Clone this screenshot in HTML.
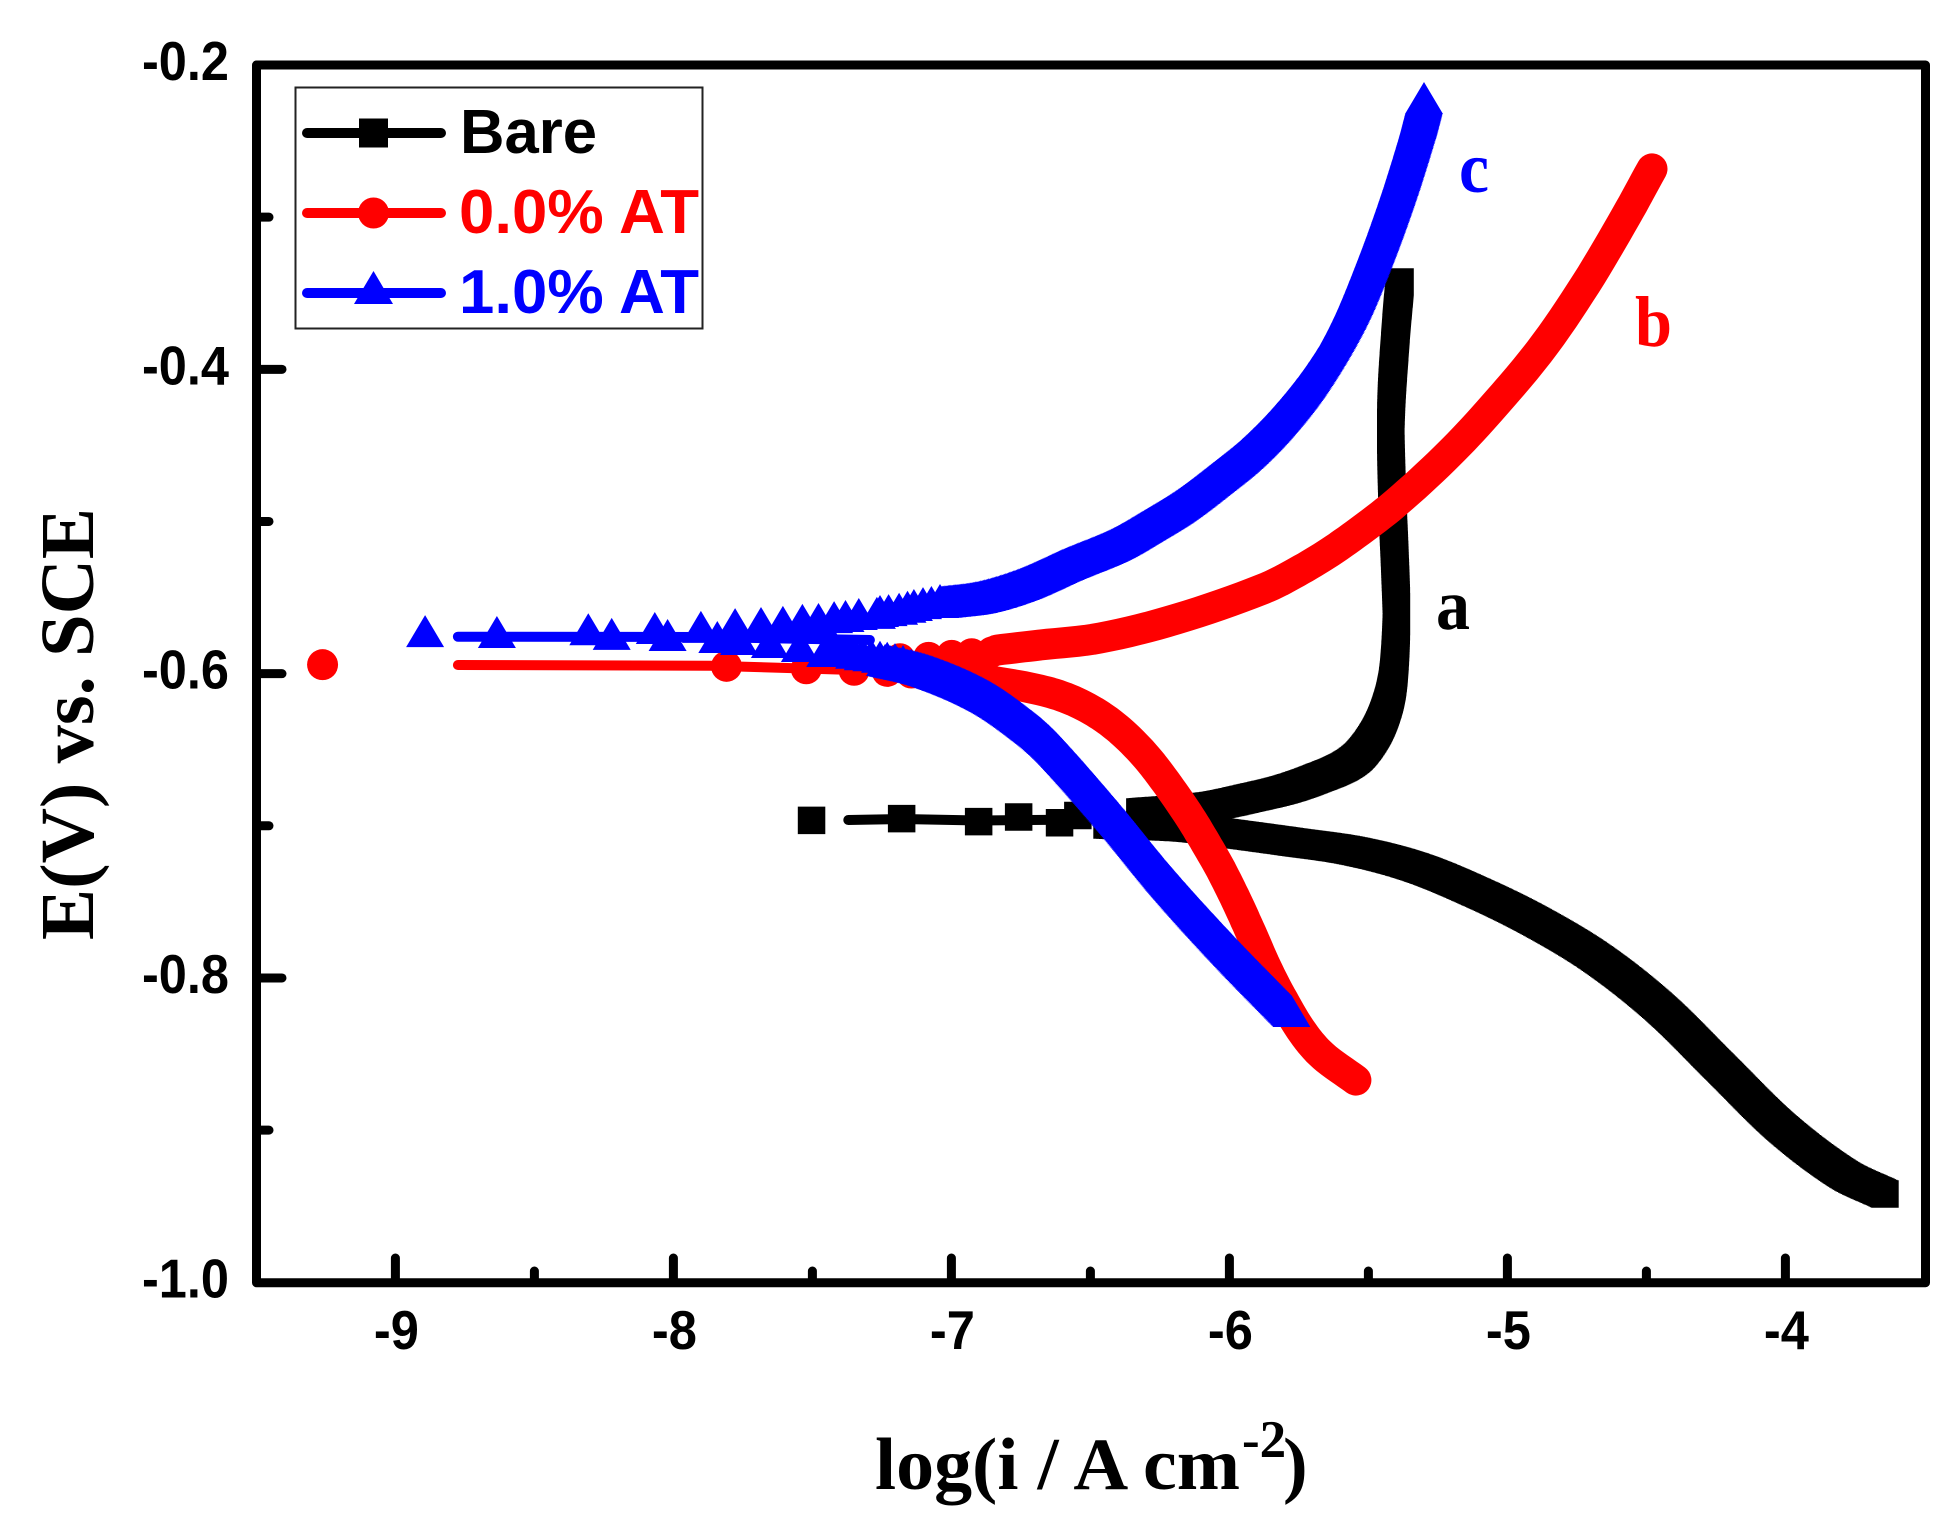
<!DOCTYPE html>
<html lang="en">
<head>
<meta charset="utf-8">
<title>Polarization curves</title>
<style>
html,body{margin:0;padding:0;background:#fff;width:1960px;height:1540px;overflow:hidden}
svg{display:block}
.tick-label{font-family:"Liberation Sans",Arial,sans-serif;font-weight:700;font-size:55px;fill:#000}
.title{font-family:"Liberation Serif","Times New Roman",serif;font-weight:700;fill:#000}
.legend-text{font-family:"Liberation Sans",Arial,sans-serif;font-weight:700;font-size:62px}
</style>
</head>
<body>
<svg id="chart" xmlns="http://www.w3.org/2000/svg" width="1960" height="1540" viewBox="0 0 1960 1540">
  <rect x="0" y="0" width="1960" height="1540" fill="#fff"/>
  <g id="ticks"></g>
  <g id="series"></g>
  <rect x="256.5" y="65" width="1669" height="1217.7" fill="none" stroke="#000" stroke-width="9" stroke-linejoin="round"/>
  <g id="labels"></g>

  <g>
    <rect x="295.5" y="87.5" width="407" height="241" fill="none" stroke="#222" stroke-width="2"/>
    <g>
      <line x1="307" y1="133" x2="441" y2="133" stroke="#000" stroke-width="10" stroke-linecap="round"/>
      <rect x="359" y="118.500" width="29" height="29" fill="#000"/>
      <text class="legend-text" x="460" y="153" fill="#000" textLength="137" lengthAdjust="spacingAndGlyphs">Bare</text>
    </g>
    <g>
      <line x1="307" y1="213" x2="441" y2="213" stroke="#f00" stroke-width="10" stroke-linecap="round"/>
      <circle cx="373.5" cy="213" r="15.5" fill="#f00"/>
      <text class="legend-text" x="459" y="233" fill="#f00" textLength="240" lengthAdjust="spacingAndGlyphs">0.0% AT</text>
    </g>
    <g>
      <line x1="307" y1="293" x2="441" y2="293" stroke="#00f" stroke-width="10" stroke-linecap="round"/>
      <polygon points="373.5,271 393,304 354,304" fill="#00f"/>
      <text class="legend-text" x="459" y="313" fill="#00f" textLength="240" lengthAdjust="spacingAndGlyphs">1.0% AT</text>
    </g>
  </g>

  <text class="title" x="1436" y="629" font-size="72" textLength="34" lengthAdjust="spacingAndGlyphs">a</text>
  <text class="title" x="1635" y="346" font-size="72" textLength="37" lengthAdjust="spacingAndGlyphs" style="fill:#f00">b</text>
  <text class="title" x="1459" y="192" font-size="72" textLength="30" lengthAdjust="spacingAndGlyphs" style="fill:#00f">c</text>

  <text class="title" transform="translate(93 940) rotate(-90)" font-size="76" textLength="432" lengthAdjust="spacingAndGlyphs">E(V) vs. SCE</text>
  <text class="title" font-size="74"><tspan x="875" y="1489" textLength="365" lengthAdjust="spacingAndGlyphs">log(i / A cm</tspan><tspan x="1242" y="1457" font-size="53">-2</tspan><tspan x="1283" y="1489">)</tspan></text>
</svg>
<script>
// axis tick values
const xMajorTicks = [-9, -8, -7, -6, -5, -4];
const xMinorTicks = [-8.5, -7.5, -6.5, -5.5, -4.5];
const yMajorTicks = [-0.4, -0.6, -0.8];
const yMinorTicks = [-0.3, -0.5, -0.7, -0.9];
const xTickLabels = ["-9", "-8", "-7", "-6", "-5", "-4"];
const yLabelValues = [-0.2, -0.4, -0.6, -0.8, -1.0];
const yTickLabels = ["-0.2", "-0.4", "-0.6", "-0.8", "-1.0"];

// Bare (curve a)
const bareCathodicLogI = [-3.642, -3.793, -4.012, -4.232, -4.451, -4.674, -4.894, -5.113, -5.332, -5.552, -5.775, -6.012, -6.153, -6.440];
const bareCathodicE = [-0.9420, -0.9288, -0.8986, -0.8592, -0.8197, -0.7875, -0.7632, -0.7435, -0.7271, -0.7166, -0.7106, -0.7047, -0.7014, -0.6995];
const bareAnodicLogI = [-6.322, -6.070, -5.912, -5.793, -5.681, -5.588, -5.530, -5.473, -5.437, -5.415, -5.404, -5.399, -5.404, -5.415, -5.419, -5.401, -5.386];
const bareAnodicE = [-0.6909, -0.6870, -0.6811, -0.6758, -0.6686, -0.6613, -0.6535, -0.6390, -0.6239, -0.6081, -0.5877, -0.5608, -0.5299, -0.4800, -0.4294, -0.3742, -0.3426];
const bareScatterLogI = [-7.503, -7.179, -6.902, -6.758, -6.611, -6.545];
const bareScatterE = [-0.6964, -0.6953, -0.6973, -0.6942, -0.6980, -0.6932];
const bareLineLogI = [-7.371, -7.179, -6.902, -6.611, -6.440];
const bareLineE = [-0.6962, -0.6955, -0.6965, -0.6960, -0.6950];

// 0.0% AT (curve b)
const redCathodicLogI = [-5.545, -5.663, -5.735, -5.807, -5.868, -5.922, -5.976, -6.030, -6.077, -6.142, -6.221, -6.296, -6.383, -6.473, -6.577, -6.681, -6.836, -7.005];
const redCathodicE = [-0.8671, -0.8513, -0.8362, -0.8145, -0.7928, -0.7704, -0.7488, -0.7290, -0.7139, -0.6942, -0.6732, -0.6554, -0.6390, -0.6265, -0.6167, -0.6108, -0.6055, -0.6015];
const redAnodicLogI = [-6.836, -6.681, -6.465, -6.190, -5.879, -5.757, -5.638, -5.516, -5.397, -5.228, -5.091, -4.886, -4.718, -4.573, -4.480];
const redAnodicE = [-0.5845, -0.5812, -0.5766, -0.5641, -0.5444, -0.5332, -0.5201, -0.5043, -0.4872, -0.4589, -0.4327, -0.3886, -0.3439, -0.2992, -0.2683];
const redScatterLogI = [-9.262, -7.809, -7.522, -7.350, -7.231, -7.144, -7.185, -7.082, -6.999, -6.927, -6.855];
const redScatterE = [-0.5941, -0.5952, -0.5968, -0.5978, -0.5985, -0.5996, -0.5902, -0.5893, -0.5880, -0.5869, -0.5858];
const redLineLogI = [-8.775, -7.867, -7.350, -6.897];
const redLineE = [-0.5943, -0.5948, -0.5976, -0.5989];

// 1.0% AT (curve c)
const blueCathodicLogI = [-5.777, -5.987, -6.206, -6.404, -6.613, -6.703, -6.868, -7.077, -7.239];
const blueCathodicE = [-0.8250, -0.7856, -0.7415, -0.6975, -0.6541, -0.6390, -0.6180, -0.6015, -0.5943];
const blueAnodicLogI = [-7.041, -6.904, -6.753, -6.591, -6.426, -6.307, -6.185, -6.066, -5.947, -5.825, -5.706, -5.577, -5.483, -5.394, -5.325, -5.300];
const blueAnodicE = [-0.5562, -0.5529, -0.5444, -0.5312, -0.5187, -0.5063, -0.4925, -0.4760, -0.4583, -0.4353, -0.4070, -0.3669, -0.3268, -0.2822, -0.2421, -0.2250];
const blueScatterLogI = [-8.893, -8.635, -8.306, -8.222, -8.067, -8.021, -7.901, -7.842, -7.778, -7.685, -7.606, -7.536, -7.478, -7.422, -7.381, -7.333, -7.268, -7.257, -7.226, -7.188, -7.158, -7.135, -7.102, -7.072, -7.041, -7.764, -7.653, -7.545, -7.454, -7.417, -7.381, -7.350, -7.319, -7.288, -7.257, -7.231, -7.203, -7.174, -7.144];
const blueScatterE = [-0.5753, -0.5759, -0.5741, -0.5772, -0.5733, -0.5779, -0.5726, -0.5792, -0.5707, -0.5700, -0.5693, -0.5680, -0.5674, -0.5661, -0.5654, -0.5641, -0.5634, -0.5621, -0.5615, -0.5606, -0.5593, -0.5582, -0.5569, -0.5562, -0.5549, -0.5805, -0.5825, -0.5851, -0.5884, -0.5884, -0.5884, -0.5895, -0.5906, -0.5912, -0.5922, -0.5928, -0.5937, -0.5950, -0.5976];
const blueLineLogI = [-8.775, -7.904, -7.293];
const blueLineE = [-0.5757, -0.5759, -0.5779];

const SVG_NS = "http://www.w3.org/2000/svg";
function xScale(v) { return 395.4 + (v + 9) * 278; }
function yScale(v) { return 65 + (-0.2 - v) * 1521.6; }
function make(tag, attrs, parent) {
  const el = document.createElementNS(SVG_NS, tag);
  for (const k in attrs) el.setAttribute(k, attrs[k]);
  parent.appendChild(el);
  return el;
}
function toPoints(xs, ys) { return xs.map(function (v, i) { return [xScale(v), yScale(ys[i])]; }); }
// Chord-length Hermite spline through the read values, so unevenly spaced readings do not kink.
function smooth(pts) {
  const n = pts.length, d = [], m = [], out = [];
  for (let i = 0; i < n - 1; i++) d.push(Math.hypot(pts[i + 1][0] - pts[i][0], pts[i + 1][1] - pts[i][1]) || 1);
  for (let i = 0; i < n; i++) {
    const a = pts[Math.max(i - 1, 0)], b = pts[Math.min(i + 1, n - 1)];
    const len = (i > 0 ? d[i - 1] : 0) + (i < n - 1 ? d[i] : 0);
    m.push([(b[0] - a[0]) / len, (b[1] - a[1]) / len]);
  }
  for (let i = 0; i < n - 1; i++) {
    for (let s = 0; s < 8; s++) {
      const t = s / 8, t2 = t * t, t3 = t2 * t;
      const h00 = 2 * t3 - 3 * t2 + 1, h10 = t3 - 2 * t2 + t, h01 = -2 * t3 + 3 * t2, h11 = t3 - t2;
      out.push([0, 1].map(function (c) {
        return h00 * pts[i][c] + h10 * d[i] * m[i][c] + h01 * pts[i + 1][c] + h11 * d[i] * m[i + 1][c];
      }));
    }
  }
  out.push(pts[n - 1]);
  return out;
}
function polyD(pts) { return pts.map(function (p, i) { return (i ? "L" : "M") + p[0].toFixed(1) + " " + p[1].toFixed(1); }).join(""); }
function squareD(x, y) {
  const h = 13.75;
  return "M" + (x - h).toFixed(1) + " " + (y - h).toFixed(1) + "h27.5v27.5h-27.5z";
}
function triangleD(x, y) {
  return "M" + x.toFixed(1) + " " + (y - 21).toFixed(1) + "l19 32h-38z";
}
function sweepD(pts, brush) {
  let d = "";
  for (let i = 0; i < pts.length - 1; i++) {
    const a = pts[i], b = pts[i + 1];
    const n = Math.max(1, Math.ceil(Math.hypot(b[0] - a[0], b[1] - a[1]) / 1.5));
    for (let s = 0; s < n; s++) {
      d += brush(a[0] + (b[0] - a[0]) * s / n, a[1] + (b[1] - a[1]) * s / n);
    }
  }
  const last = pts[pts.length - 1];
  return d + brush(last[0], last[1]);
}

const ticksLayer = document.getElementById("ticks");
const labelsLayer = document.getElementById("labels");
const seriesLayer = document.getElementById("series");

function drawXTick(v, top, name) {
  const el = make("line", { x1: xScale(v), x2: xScale(v), y1: 1282, y2: top, stroke: "#000", "stroke-width": 9, "stroke-linecap": "round" }, ticksLayer);
  
  
}
function drawYTick(v, right, name) {
  const el = make("line", { x1: 257, x2: right, y1: yScale(v), y2: yScale(v), stroke: "#000", "stroke-width": 9, "stroke-linecap": "round" }, ticksLayer);
  
  
}
xMajorTicks.forEach(function (v) { drawXTick(v, 1258, "x-major-tick"); });
xMinorTicks.forEach(function (v) { drawXTick(v, 1271, "x-minor-tick"); });
yMajorTicks.forEach(function (v) { drawYTick(v, 282, "y-major-tick"); });
yMinorTicks.forEach(function (v) { drawYTick(v, 269, "y-minor-tick"); });

xMajorTicks.forEach(function (v, i) {
  const t = make("text", { class: "tick-label", x: xScale(v) + 1, y: 1349, "text-anchor": "middle", textLength: 45, lengthAdjust: "spacingAndGlyphs" }, labelsLayer);
  t.textContent = xTickLabels[i];
  
  
});
yLabelValues.forEach(function (v, i) {
  const t = make("text", { class: "tick-label", x: 142, y: yScale(v) + 15, textLength: 87, lengthAdjust: "spacingAndGlyphs" }, labelsLayer);
  t.textContent = yTickLabels[i];
  
  
});

function drawLine(group, xs, ys, color) {
  const el = make("path", { d: polyD(toPoints(xs, ys)), fill: "none", stroke: color, "stroke-width": 10, "stroke-linecap": "round", "stroke-linejoin": "round" }, group);
  
  
}
function drawBand(group, xs, ys, color, brush) {
  const el = make("path", { d: sweepD(smooth(toPoints(xs, ys)), brush), fill: color }, group);
  
  
}
function drawRoundBand(group, xs, ys, color) {
  const el = make("path", { d: polyD(smooth(toPoints(xs, ys))), fill: "none", stroke: color, "stroke-width": 31, "stroke-linecap": "round", "stroke-linejoin": "round" }, group);
  
  
}

const bareGroup = make("g", {}, seriesLayer);


drawLine(bareGroup, bareLineLogI, bareLineE, "#000");
drawBand(bareGroup, bareCathodicLogI, bareCathodicE, "#000", squareD);
drawBand(bareGroup, bareAnodicLogI, bareAnodicE, "#000", squareD);
toPoints(bareScatterLogI, bareScatterE).forEach(function (p) {
  const el = make("path", { d: squareD(p[0], p[1]), fill: "#000" }, bareGroup);
  
  
});

const redGroup = make("g", {}, seriesLayer);


drawLine(redGroup, redLineLogI, redLineE, "#f00");
drawRoundBand(redGroup, redCathodicLogI, redCathodicE, "#f00");
drawRoundBand(redGroup, redAnodicLogI, redAnodicE, "#f00");
toPoints(redScatterLogI, redScatterE).forEach(function (p) {
  const el = make("circle", { cx: p[0], cy: p[1], r: 15.5, fill: "#f00" }, redGroup);
  
  
});

const blueGroup = make("g", {}, seriesLayer);


drawLine(blueGroup, blueLineLogI, blueLineE, "#00f");
drawBand(blueGroup, blueCathodicLogI, blueCathodicE, "#00f", triangleD);
drawBand(blueGroup, blueAnodicLogI, blueAnodicE, "#00f", triangleD);
toPoints(blueScatterLogI, blueScatterE).forEach(function (p) {
  const el = make("path", { d: triangleD(p[0], p[1]), fill: "#00f" }, blueGroup);
  
  
});
</script>
</body>
</html>
